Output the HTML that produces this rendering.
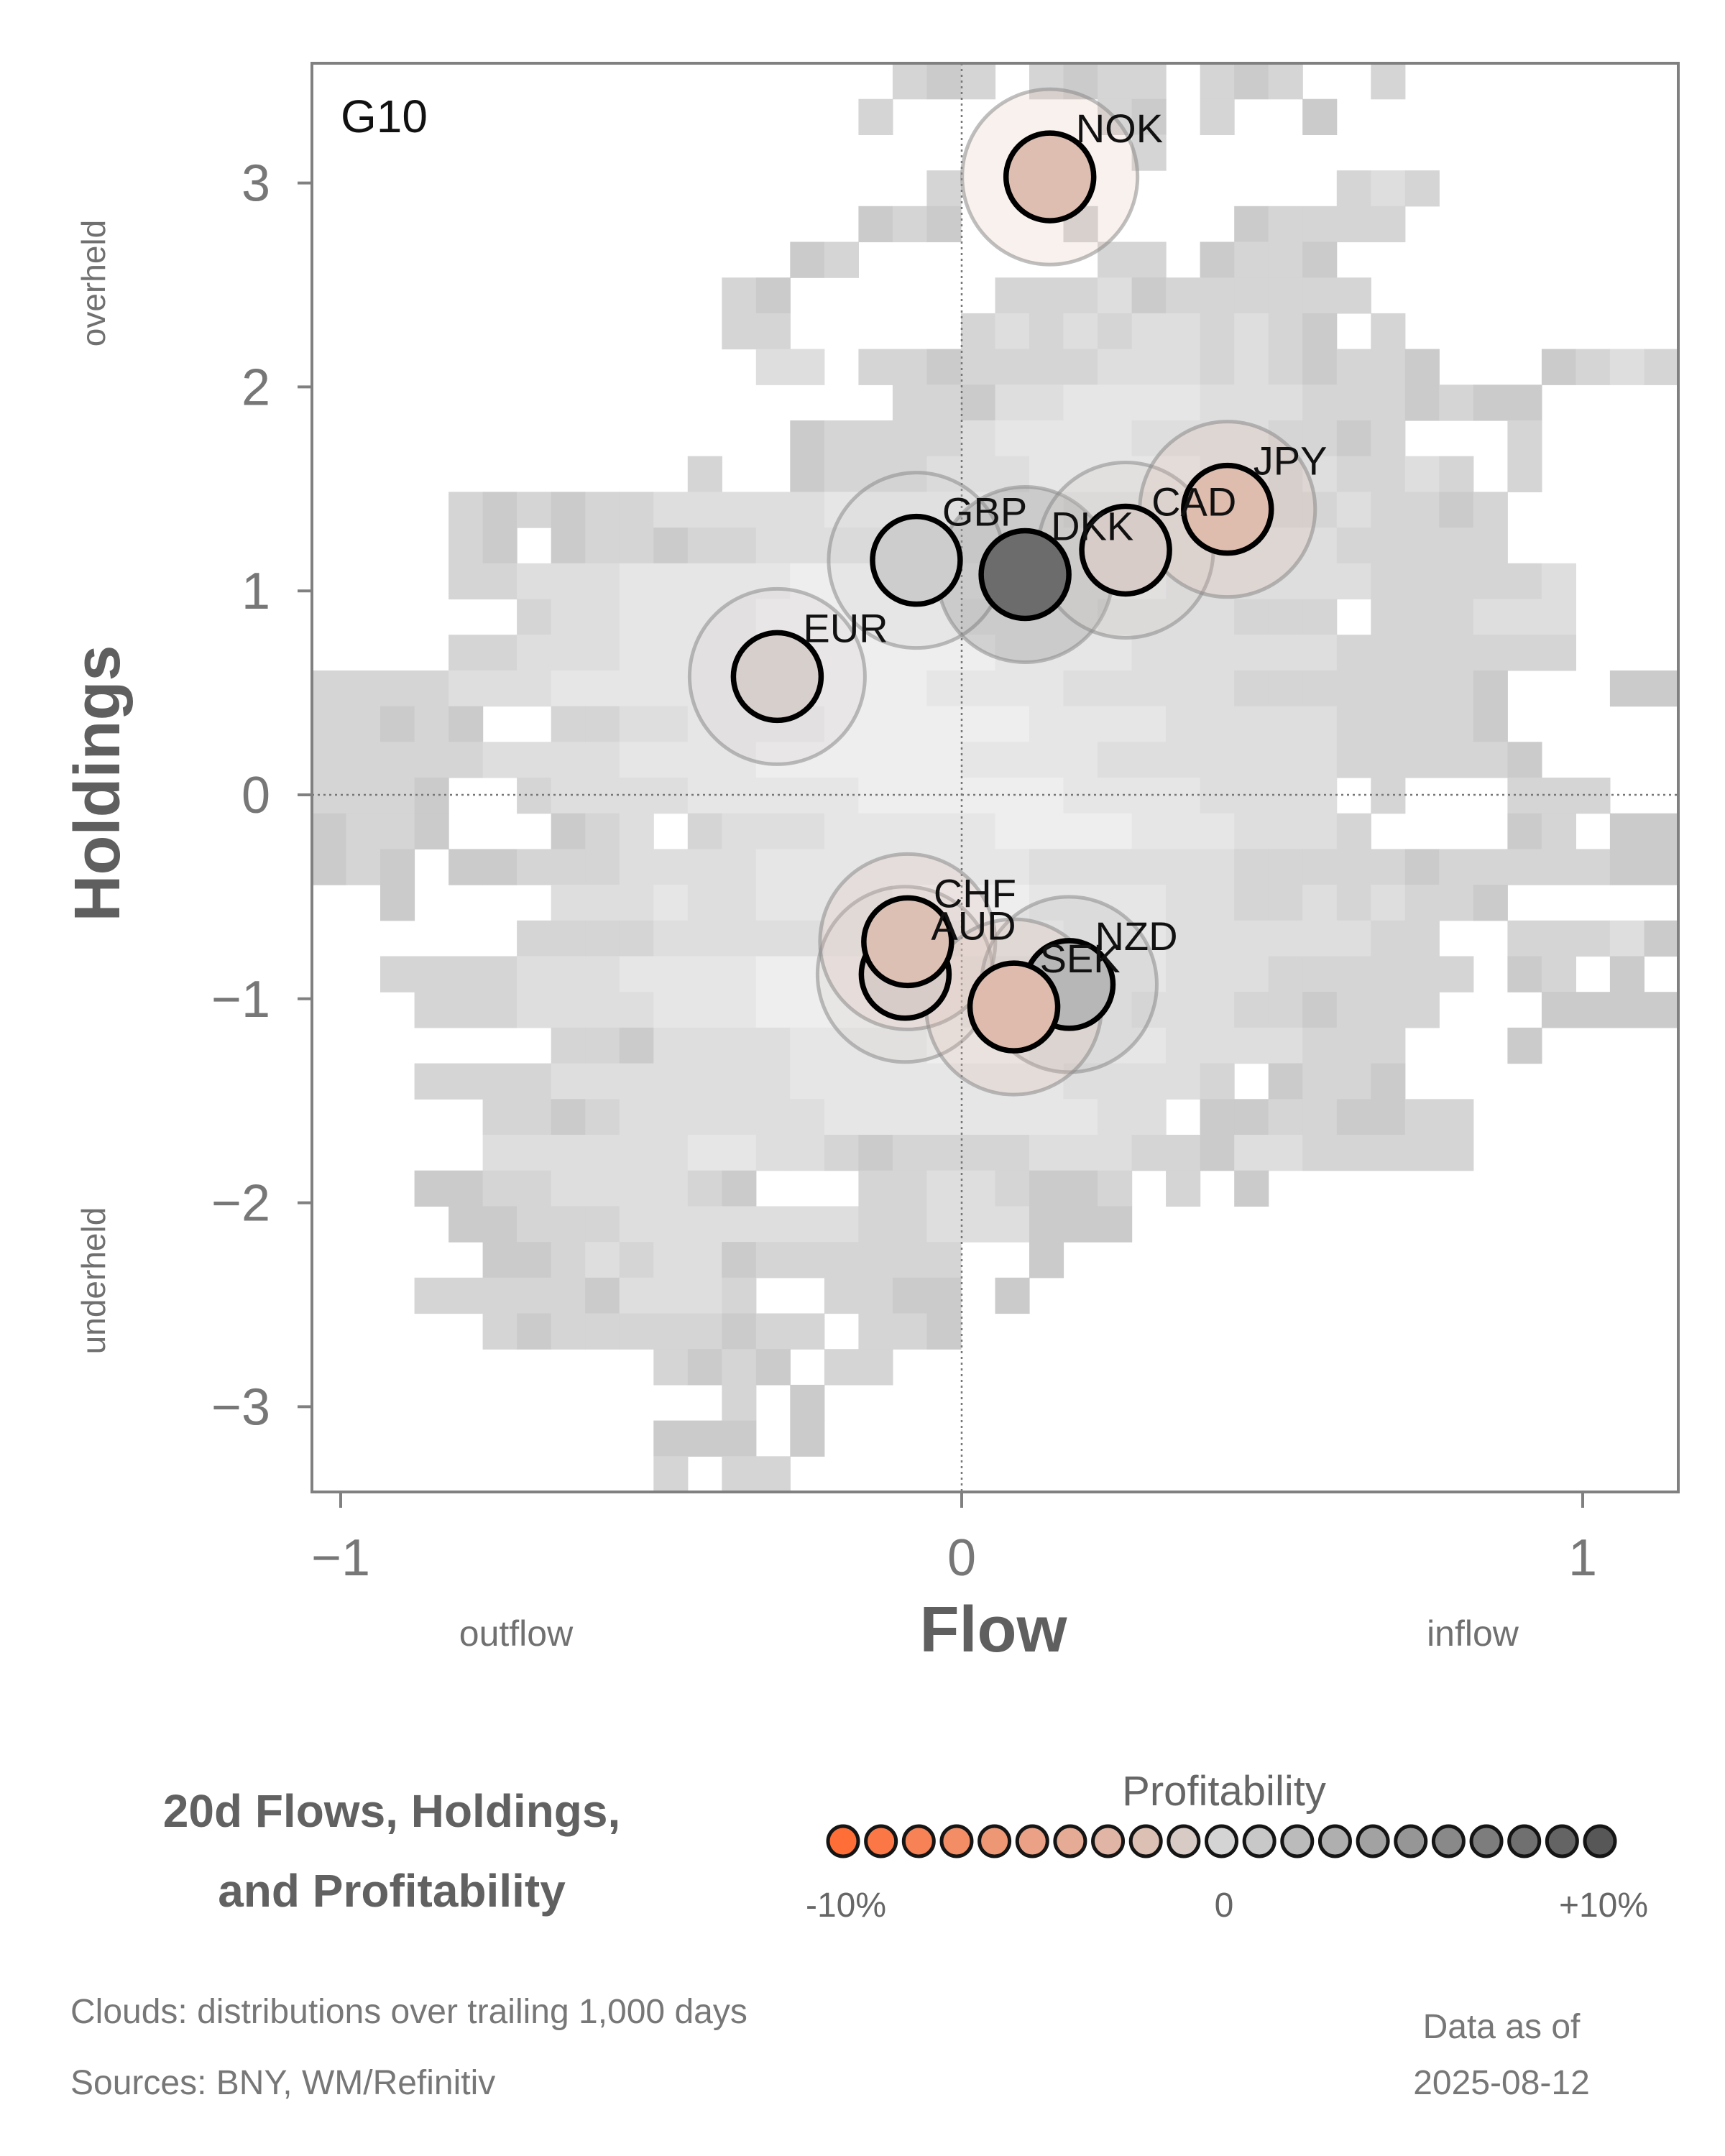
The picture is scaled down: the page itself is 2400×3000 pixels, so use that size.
<!DOCTYPE html>
<html><head><meta charset="utf-8">
<style>
html,body{margin:0;padding:0;background:#fff;}
svg{display:block;font-family:"Liberation Sans",sans-serif;}
</style></head>
<body>
<svg id="chart" width="2400" height="3000" viewBox="0 0 2400 3000" xmlns="http://www.w3.org/2000/svg">
  <rect x="0" y="0" width="2400" height="3000" fill="#fff"/>
  <g id="cloud"></g>
  <line x1="1338" y1="88" x2="1338" y2="2076" stroke="#777" stroke-width="2.5" stroke-dasharray="3,5"/>
  <line x1="434" y1="1106" x2="2335" y2="1106" stroke="#777" stroke-width="2.5" stroke-dasharray="3,5"/>
  <g id="halos"></g>
  <g id="dots"></g>
  <g id="labels"></g>
  <rect x="434" y="88" width="1901" height="1988" fill="none" stroke="#808080" stroke-width="4"/>
  <text x="474" y="184" font-size="64" fill="#111">G10</text>
  <g id="xticks"></g>
  <g id="yticks"></g>
  <text x="1382" y="2298" font-size="90" font-weight="bold" fill="#5f5f5f" text-anchor="middle">Flow</text>
  <text x="718" y="2290" font-size="50" fill="#707070" text-anchor="middle">outflow</text>
  <text x="2049" y="2290" font-size="50" fill="#707070" text-anchor="middle">inflow</text>
  <text transform="translate(166,1090) rotate(-90)" font-size="90" font-weight="bold" fill="#5f5f5f" text-anchor="middle">Holdings</text>
  <text transform="translate(146,394) rotate(-90)" font-size="46" fill="#707070" text-anchor="middle">overheld</text>
  <text transform="translate(146,1782) rotate(-90)" font-size="46" fill="#707070" text-anchor="middle">underheld</text>
  <text x="545" y="2542" font-size="64" font-weight="bold" fill="#616161" text-anchor="middle">20d Flows, Holdings,</text>
  <text x="545" y="2653" font-size="64" font-weight="bold" fill="#616161" text-anchor="middle">and Profitability</text>
  <text x="1703" y="2512" font-size="58" fill="#666" text-anchor="middle">Profitability</text>
  <g id="legend"></g>
  <text x="1177" y="2667" font-size="48" fill="#666" text-anchor="middle">-10%</text>
  <text x="1703" y="2667" font-size="48" fill="#666" text-anchor="middle">0</text>
  <text x="2231" y="2667" font-size="48" fill="#666" text-anchor="middle">+10%</text>
  <text x="98" y="2815" font-size="48" fill="#777">Clouds:  distributions over trailing 1,000 days</text>
  <text x="98" y="2914" font-size="48" fill="#777">Sources:  BNY, WM/Refinitiv</text>
  <text x="2089" y="2836" font-size="48" fill="#777" text-anchor="middle">Data as of</text>
  <text x="2089" y="2914" font-size="48" fill="#777" text-anchor="middle">2025-08-12</text>
</svg>
<script>
const currencies = ["NOK","GBP","DKK","CAD","JPY","EUR","AUD","CHF","NZD","SEK"];
const flowValues = [0.142,-0.073,0.102,0.264,0.428,-0.297,-0.091,-0.087,0.173,0.084];
const holdingValues = [3.03,1.15,1.08,1.20,1.40,0.58,-0.88,-0.72,-0.93,-1.04];
const profitValues = [-2.2,0.6,8.3,-0.8,-2.4,-0.5,-0.8,-2.0,2.3,-2.5];
const xTicks = [-1,0,1];
const xTickLabels = ["\u22121","0","1"];
const yTicks = [-3,-2,-1,0,1,2,3];
const yTickLabels = ["\u22123","\u22122","\u22121","0","1","2","3"];
const legendSteps = [-10,-9,-8,-7,-6,-5,-4,-3,-2,-1,0,1,2,3,4,5,6,7,8,9,10];
// cloud rows: [startCol, shade string] segments, shade 1(dark)..5(light)
const cloudRows = [
 [[17,"212"],[21,"2122"],[26,"212"],[31,"2"]],
 [[16,"2"],[23,"21"],[26,"2"],[29,"1"]],
 [[24,"2"]],
 [[18,"2"],[30,"232"]],
 [[16,"121"],[22,"2"],[27,"12222"]],
 [[14,"12"],[23,"22"],[26,"1221"]],
 [[12,"21"],[20,"22231222222"]],
 [[12,"22"],[19,"23232332321"],[31,"2"]],
 [[13,"33"],[16,"22122223332321221"],[36,"1232"]],
 [[17,"2213344443332221211"]],
 [[14,"122223444433332212"],[35,"2"]],
 [[11,"2"],[14,"12223334444433232232"],[35,"2"]],
 [[4,"2121223333344444443333332232212"]],
 [[4,"21"],[7,"1221223333344444433333322222"]],
 [[4,"223334444455555544444333333222223"]],
 [[6,"233444455555544443333222"],[31,"222333"]],
 [[4,"223334444455555544443333332222222"]],
 [[0,"22223334444445555544443333322222221"],[38,"11"]],
 [[0,"22121"],[7,"2233444455555544443333322221"]],
 [[0,"222223333444455555544443333333222221"]],
 [[0,"2221"],[6,"233334444455555544443333"],[31,"2"],[35,"222"]],
 [[0,"1221"],[7,"123"],[11,"23334444455554443332"],[35,"12"],[38,"11"]],
 [[0,"121"],[4,"112223333444444443333332222212222211"]],
 [[2,"1"],[7,"3334334444555544443322323221"]],
 [[6,"222233333444455544433333322"],[35,"22231"]],
 [[2,"22223334444555555444444333222222"],[35,"12"],[38,"1"]],
 [[3,"222333344455555544444333221222"],[36,"1111"]],
 [[7,"2213333444455544443333222"],[35,"1"]],
 [[3,"222233333334444444433332"],[28,"1221"]],
 [[5,"22123333334444444433"],[26,"11221122"]],
 [[5,"33333344332122223332213322222"]],
 [[3,"1122333321"],[16,"22332112"],[25,"2"],[27,"1"]],
 [[4,"11222333333322333111"]],
 [[5,"11232331222222"],[21,"1"]],
 [[3,"2222213332"],[15,"2211"],[20,"1"]],
 [[5,"2122222122"],[16,"221"]],
 [[10,"2121"],[15,"22"]],
 [[12,"2"],[14,"1"]],
 [[10,"111"],[14,"1"]],
 [[10,"2"],[12,"22"]]
];

const NS = "http://www.w3.org/2000/svg";
const PL = 434, PR = 2335, PT = 88, PB = 2076;
function xScale(v){ return 1338 + v*864; }
function yScale(v){ return 1106 - v*283.8; }
function mk(tag, attrs, parent){
  const e = document.createElementNS(NS, tag);
  for (const k in attrs) e.setAttribute(k, attrs[k]);
  parent.appendChild(e);
  return e;
}
function lerp(a,b,t){ return Math.round(a+(b-a)*t); }
function profitColor(p){
  const neg=[255,110,54], mid=[212,212,212], pos=[87,87,87];
  let c;
  if (p<0){ const t=Math.min(1,-p/10); c=[lerp(mid[0],neg[0],t),lerp(mid[1],neg[1],t),lerp(mid[2],neg[2],t)]; }
  else { const t=Math.min(1,p/10); c=[lerp(mid[0],pos[0],t),lerp(mid[1],pos[1],t),lerp(mid[2],pos[2],t)]; }
  return "rgb("+c.join(",")+")";
}
const shadeColors = {"1":"#cbcbcb","2":"#d5d5d5","3":"#dedede","4":"#e6e6e6","5":"#eeeeee"};
const cloud = document.getElementById("cloud");
const nCols = 40, nRows = 40;
const cw = (PR-PL)/nCols, ch = (PB-PT)/nRows;
cloudRows.forEach((segs, r) => {
  segs.forEach(seg => {
    const start = seg[0], s = seg[1];
    for (let i=0;i<s.length;i++){
      const c = start+i;
      if (c>=nCols) break;
      const cell = mk("rect",{x:(PL+c*cw).toFixed(1),y:(PT+r*ch).toFixed(1),width:(cw+0.6).toFixed(1),height:(ch+0.6).toFixed(1),fill:shadeColors[s[i]]},cloud);
      
      
    }
  });
});
const halos = document.getElementById("halos"), dots = document.getElementById("dots"), labels = document.getElementById("labels");
currencies.forEach((cur,i) => {
  const cx = xScale(flowValues[i]), cy = yScale(holdingValues[i]);
  const col = profitColor(profitValues[i]);
  const h = mk("circle",{cx:cx,cy:cy,r:122,fill:col,"fill-opacity":0.22,stroke:"#8a8a8a","stroke-opacity":0.55,"stroke-width":5},halos);
  
  
});
currencies.forEach((cur,i) => {
  const cx = xScale(flowValues[i]), cy = yScale(holdingValues[i]);
  const d = mk("circle",{cx:cx,cy:cy,r:61,fill:profitColor(profitValues[i]),stroke:"#000","stroke-width":7.5},dots);
  
  
  const t = mk("text",{x:cx+36,y:cy-48,"font-size":56,fill:"#111"},labels);
  t.textContent = cur;
  
  
});
const xt = document.getElementById("xticks");
xTicks.forEach((v,i) => {
  const x = xScale(v);
  const l = mk("line",{x1:x,y1:PB,x2:x,y2:PB+22,stroke:"#808080","stroke-width":4},xt);
  
  
  const t = mk("text",{x:x,y:2192,"font-size":72,fill:"#777","text-anchor":"middle"},xt);
  t.textContent = xTickLabels[i];
  
  
});
const yt = document.getElementById("yticks");
yTicks.forEach((v,i) => {
  const y = yScale(v);
  const l = mk("line",{x1:PL-20,y1:y,x2:PL,y2:y,stroke:"#808080","stroke-width":4},yt);
  
  
  const t = mk("text",{x:376,y:y+25,"font-size":72,fill:"#777","text-anchor":"end"},yt);
  t.textContent = yTickLabels[i];
  
  
});
const lg = document.getElementById("legend");
legendSteps.forEach((p,i) => {
  const cx = 1173 + i*(2226-1173)/(legendSteps.length-1);
  const c = mk("circle",{cx:cx,cy:2562,r:21,fill:profitColor(p),stroke:"#151515","stroke-width":5},lg);
  
  
});
</script>
</body></html>
